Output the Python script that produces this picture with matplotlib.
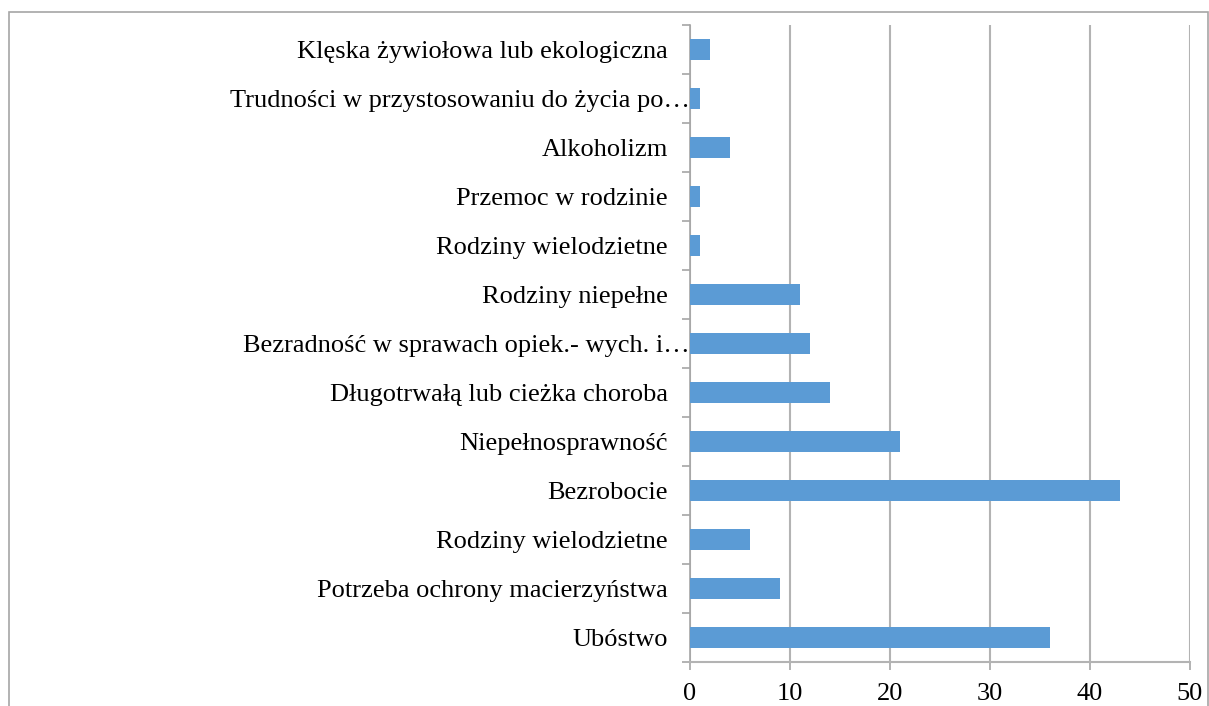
import matplotlib
matplotlib.use('Agg')
import matplotlib.pyplot as plt
from matplotlib.patches import Rectangle
import numpy as np

plt.rcParams['font.family'] = ['Liberation Serif', 'DejaVu Serif']

# categories from bottom to top
categories = ['Ubóstwo',
              'Potrzeba ochrony macierzyństwa',
              'Rodziny wielodzietne',
              'Bezrobocie',
              'Niepełnosprawność',
              'Długotrwałą lub cieżka choroba',
              'Bezradność w sprawach opiek.- wych. i…',
              'Rodziny niepełne',
              'Rodziny wielodzietne',
              'Przemoc w rodzinie',
              'Alkoholizm',
              'Trudności w przystosowaniu do życia po…',
              'Klęska żywiołowa lub ekologiczna']
values = [36, 9, 6, 43, 21, 14, 12, 11, 1, 1, 4, 1, 2]
xticks = [0, 10, 20, 30, 40, 50]

fig = plt.figure(figsize=(12.09, 7.06), dpi=100)
ax = fig.add_axes([690/1209, 44/706, 500/1209, 637/706])

pos = np.arange(len(categories))
ax.barh(pos, values, height=0.41, color='#5b9bd5', zorder=3)
ax.set_yticks(pos)
ax.set_yticklabels(categories, fontsize=19)
ax.set_ylim(-0.5, len(categories) - 0.5)
ax.set_xlim(0, 50)
ax.set_xticks(xticks)
ax.set_xticklabels([str(t) for t in xticks], fontsize=19)

# category boundary ticks on y axis
ax.set_yticks(np.arange(len(categories) + 1) - 0.5, minor=True)
ax.tick_params(axis='y', which='major', length=0, pad=16)
ax.tick_params(axis='y', which='minor', length=6, color='#a6a6a6', width=1.2)
ax.tick_params(axis='x', length=6, color='#a6a6a6', width=1.2, pad=9)

# truncated labels run up to the axis line
for lbl in ax.get_yticklabels():
    if lbl.get_text().endswith('…'):
        lbl.set_x(0.044)

ax.grid(axis='x', color='#b3b3b3', linewidth=1.5, zorder=0)
for s in ['top', 'right']:
    ax.spines[s].set_visible(False)
ax.spines['left'].set_color('#a6a6a6')
ax.spines['left'].set_linewidth(1.2)
ax.spines['bottom'].set_color('#b3b3b3')
ax.spines['bottom'].set_linewidth(1.5)

# outer chart border
fig.patches.append(Rectangle((9/1209, -0.05), 1198.5/1209, 1.05 - 12/706,
                             transform=fig.transFigure, fill=False,
                             edgecolor='#a6a6a6', linewidth=1.2))

fig.savefig('out.png', dpi=100)
